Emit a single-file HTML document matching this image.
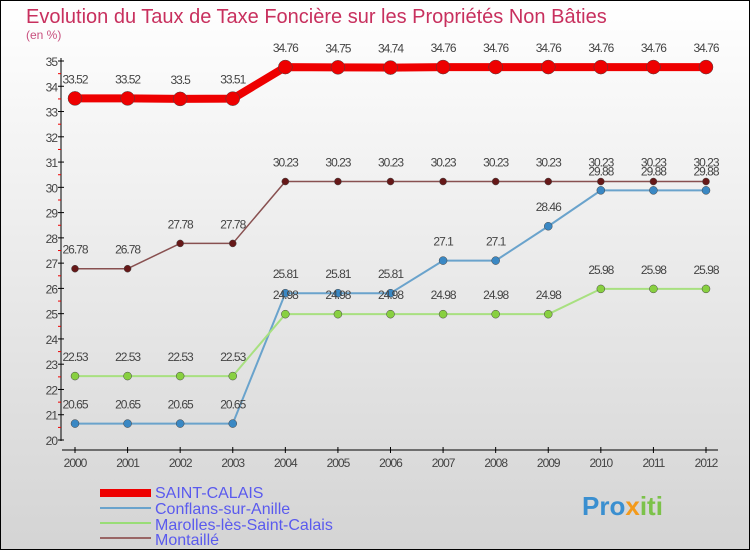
<!DOCTYPE html>
<html><head><meta charset="utf-8"><style>
body{margin:0;}
#c{width:750px;height:550px;position:relative;}
svg text{font-family:"Liberation Sans",sans-serif;}
</style></head><body>
<div id="c">
<svg id="s" width="750" height="550" xmlns="http://www.w3.org/2000/svg">
<defs><linearGradient id="bg" x1="0" y1="0" x2="0" y2="1"><stop offset="0" stop-color="#ffffff"/><stop offset="1" stop-color="#d4d4d4"/></linearGradient></defs>
<rect x="0.5" y="0.5" width="749" height="549" fill="url(#bg)" stroke="#000"/>
<text x="26" y="23" font-size="20" fill="#c8305e">Evolution du Taux de Taxe Foncière sur les Propriétés Non Bâties</text>
<text x="26" y="39" font-size="12" fill="#c8507e">(en %)</text>
<g id="axes"></g><g id="series"></g>
<g>
<rect x="100" y="489" width="51" height="8" fill="#ee0000"/>
<text x="155" y="498" font-size="16" fill="#5a5aee">SAINT-CALAIS</text>
<rect x="100" y="507" width="51" height="2" fill="#6aa3cc"/>
<text x="155" y="514" font-size="16" fill="#5a5aee">Conflans-sur-Anille</text>
<rect x="100" y="522" width="51" height="2" fill="#99dd77"/>
<text x="155" y="530" font-size="16" fill="#5a5aee">Marolles-lès-Saint-Calais</text>
<rect x="100" y="537" width="51" height="2" fill="#996666"/>
<text x="155" y="545" font-size="16" fill="#5a5aee">Montaillé</text>
</g>
<text x="582" y="515" font-size="26" font-weight="bold" fill="#3a8fd0">Pro<tspan fill="#f39a1b">x</tspan><tspan fill="#7cc24a">iti</tspan></text>
</svg></div>
<script>
const years=[2000,2001,2002,2003,2004,2005,2006,2007,2008,2009,2010,2011,2012];
const yTicks=[20,21,22,23,24,25,26,27,28,29,30,31,32,33,34,35];
const saintCalais=[33.52,33.52,33.5,33.51,34.76,34.75,34.74,34.76,34.76,34.76,34.76,34.76,34.76];
const conflans=[20.65,20.65,20.65,20.65,25.81,25.81,25.81,27.1,27.1,28.46,29.88,29.88,29.88];
const marolles=[22.53,22.53,22.53,22.53,24.98,24.98,24.98,24.98,24.98,24.98,25.98,25.98,25.98];
const montaille=[26.78,26.78,27.78,27.78,30.23,30.23,30.23,30.23,30.23,30.23,30.23,30.23,30.23];
const NS="http://www.w3.org/2000/svg";
const xS=i=>75+i*(706-75)/(years.length-1);
const yS=v=>440-(v-20)*(440-61)/15;
function mk(t,a,p){const e=document.createElementNS(NS,t);for(const k in a)e.setAttribute(k,a[k]);p.appendChild(e);return e;}
const ax=document.getElementById('axes');
const ya=mk('line',{x1:61,y1:58,x2:61,y2:441,stroke:'#000'},ax);


const xa=mk('line',{x1:62,y1:450,x2:718,y2:450,stroke:'#000'},ax);


yTicks.forEach(v=>{const y=yS(v);
mk('line',{x1:58,y1:y,x2:64,y2:y,stroke:'#000'},ax);
if(v<35)mk('line',{x1:58,y1:y-12.6,x2:61,y2:y-12.6,stroke:'#e00'},ax);
const t=mk('text',{x:57,y:y+5,'font-size':12,'text-anchor':'end',fill:'#444','letter-spacing':'-1'},ax);t.textContent=v;

});
years.forEach((yr,i)=>{const x=xS(i);
mk('line',{x1:x,y1:447,x2:x,y2:453,stroke:'#000'},ax);
const t=mk('text',{x:x,y:467,'font-size':12,'text-anchor':'middle',fill:'#444','letter-spacing':'-1'},ax);t.textContent=yr;

});
const sg=document.getElementById('series');
function draw(data,name,col,w,r,dot){
const g=mk('g',{},sg);


const l=mk('polyline',{points:data.map((v,i)=>xS(i)+','+yS(v)).join(' '),fill:'none',stroke:col,'stroke-width':w,'stroke-linejoin':'round'},g);


data.forEach((v,i)=>{const c=mk('circle',{cx:xS(i),cy:yS(v),r:r,fill:dot,stroke:'#444','stroke-width':0.5},g);


const t=mk('text',{x:xS(i),y:yS(v)-15,'font-size':12,'text-anchor':'middle',fill:'#444','letter-spacing':'-1'},g);t.textContent=String(v).replace('.','.');

});}
draw(conflans,'conflans','#6aa3cc',2,4,'#3a88c4');
draw(marolles,'marolles','#a8e080',2,4,'#88d040');
draw(montaille,'montaille','#885050',1.5,3.5,'#661818');
draw(saintCalais,'saint-calais','#ee0000',8,7,'#ee0000');
</script>
</body></html>
